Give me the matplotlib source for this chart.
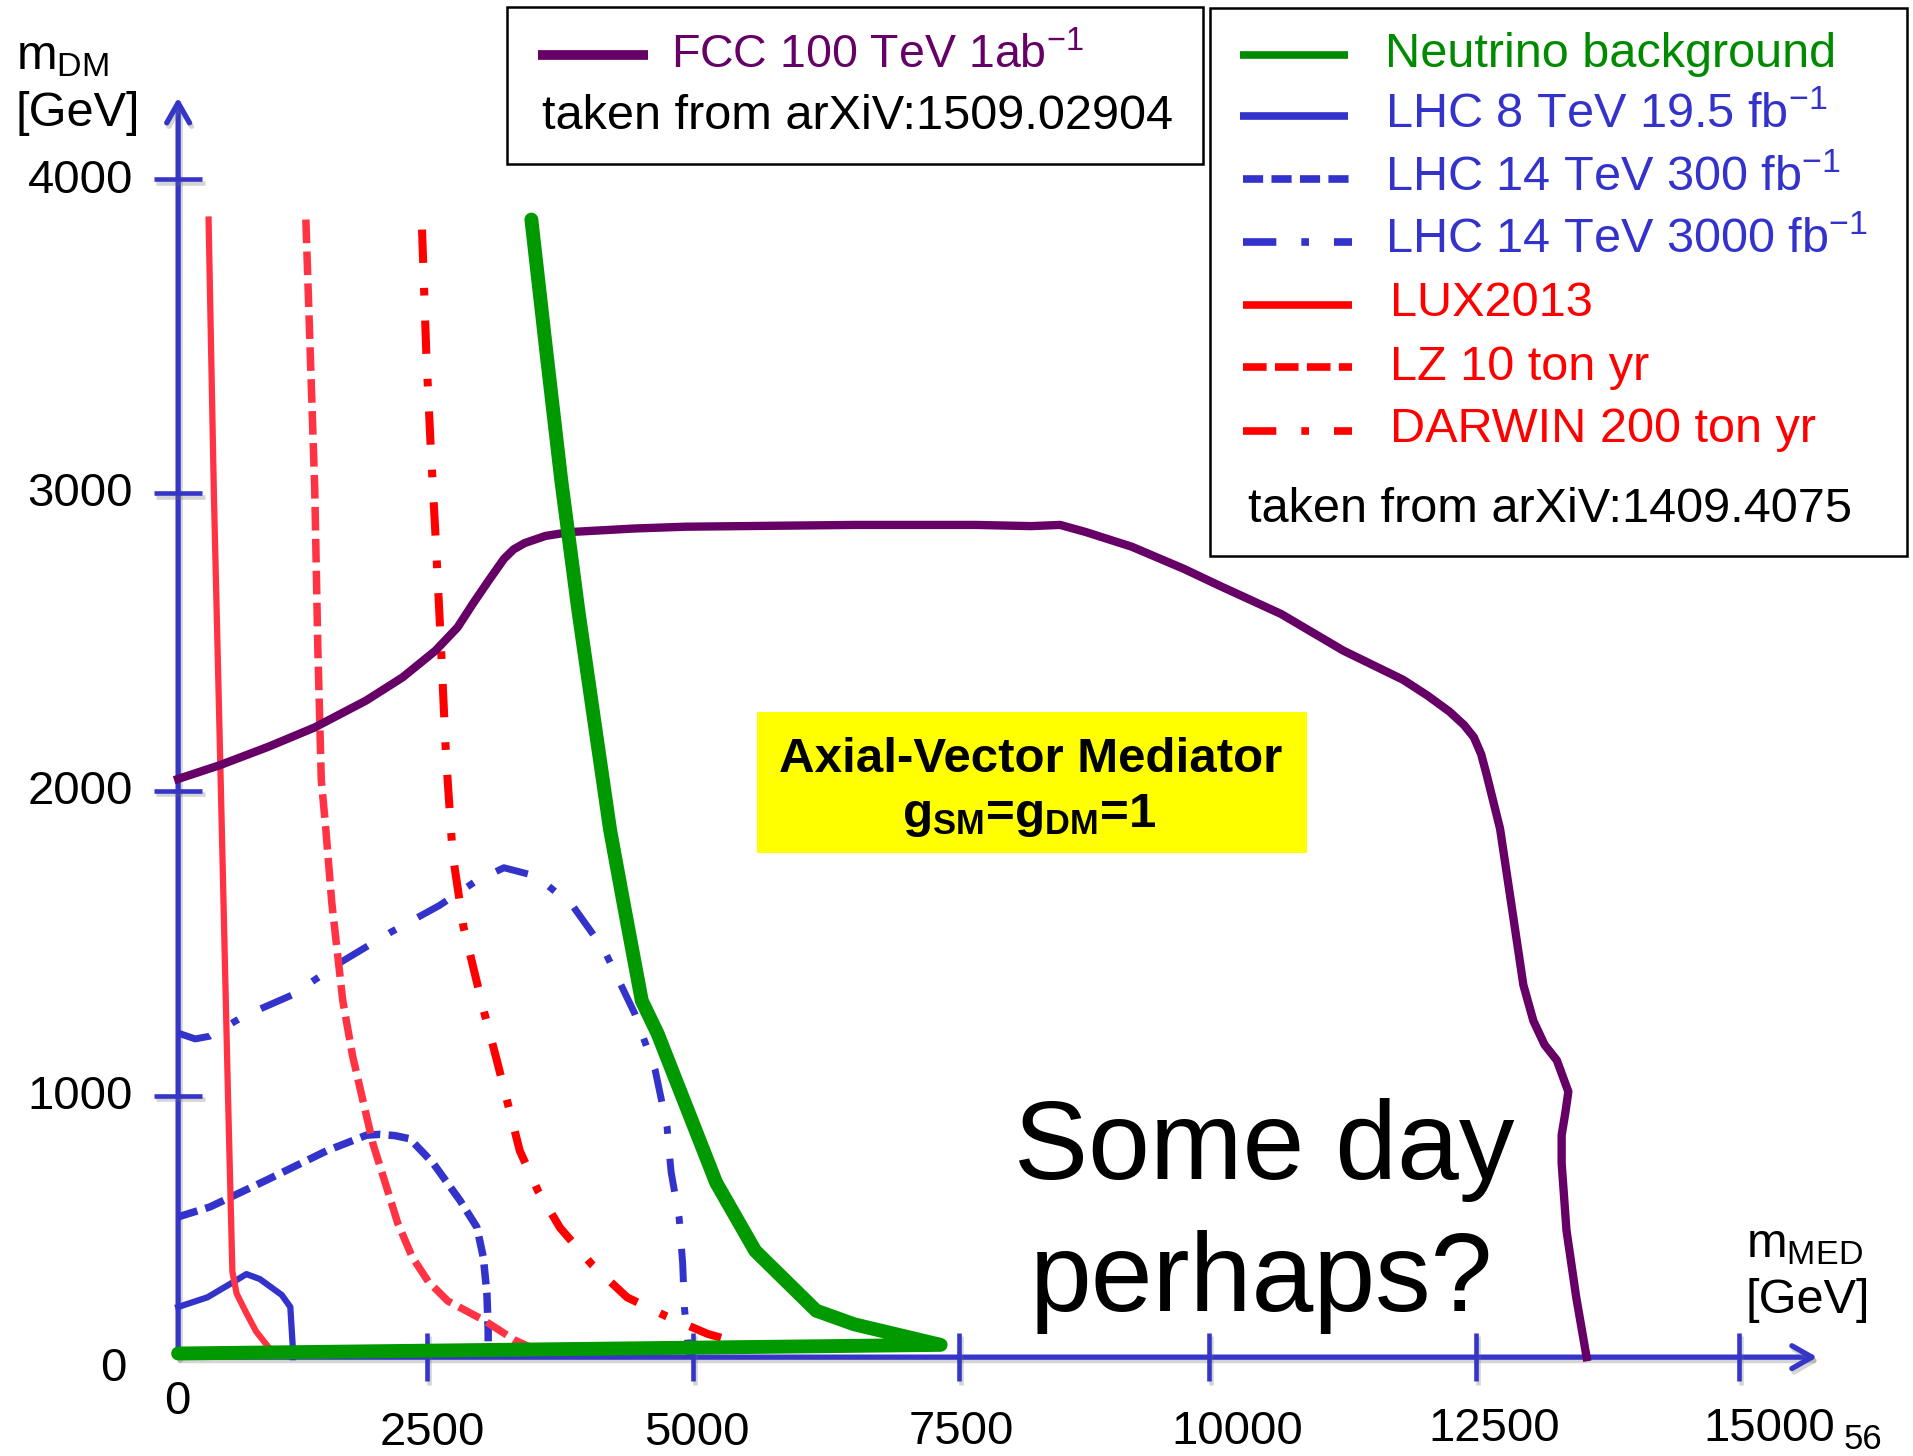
import numpy as np
import matplotlib
matplotlib.use("Agg")
import matplotlib.pyplot as plt
import matplotlib.patheffects as pe
from matplotlib.patches import Rectangle

plt.rcParams["font.family"] = ["Liberation Sans", "DejaVu Sans"]
plt.rcParams["mathtext.fontset"] = "custom"
plt.rcParams["mathtext.rm"] = "Liberation Sans"
plt.rcParams["mathtext.it"] = "Liberation Sans:italic"
plt.rcParams["mathtext.bf"] = "Liberation Sans:bold"
plt.rcParams["lines.scale_dashes"] = False

# ---------------- exclusion contours: (m_MED, m_DM) in GeV ----------------
fcc_med = [0, 417, 906, 1372, 1887, 2254, 2580, 2787, 2936, 3085, 3223, 3314, 3418, 3613, 3841,
           4450, 4931, 6514, 7671, 8220, 8512, 8769, 9226, 9745, 10103, 10674, 11256, 11816,
           12044, 12250, 12386, 12478, 12547, 12600, 12727, 12854, 12949, 13045, 13151, 13268,
           13378, 13349, 13314, 13314, 13360, 13453, 13552]
fcc_dm = [2040, 2086, 2148, 2213, 2303, 2381, 2471, 2549, 2631, 2709, 2779, 2811, 2832, 2856, 2869,
          2881, 2887, 2893, 2893, 2889, 2893, 2869, 2820, 2746, 2688, 2594, 2471, 2373,
          2320, 2266, 2221, 2180, 2123, 2053, 1876, 1584, 1364, 1246, 1168, 1117,
          1014, 935, 850, 743, 486, 229, 0]

nu_med = [3481, 3624, 3761, 3922, 4071, 4221, 4358, 4519, 4668, 5218, 5585, 6158, 6514, 7328, 0]
nu_dm = [3872, 3444, 3043, 2607, 2238, 1872, 1612, 1312, 1204, 668, 407, 178, 126, 47, 14]

lhc8_med = [0, 294, 521, 686, 821, 1041, 1127, 1152, 1152]
lhc8_dm = [192, 229, 280, 318, 299, 238, 192, 37, 0]

lhc300_med = [0, 319, 889, 1492, 1893, 2027, 2180, 2328, 2557, 2810, 2968, 3029, 3063, 3075, 3075]
lhc300_dm = [537, 575, 678, 790, 850, 853, 848, 836, 743, 600, 498, 383, 243, 103, 0]

lhc3000_med = [0, 172, 319, 662, 1152, 1642, 2132, 2615, 2959, 3223, 3532, 3876, 4163, 4450,
               4645, 4756, 4794, 4870, 4903, 4920, 4966]
lhc3000_dm = [1206, 1187, 1196, 1262, 1332, 1440, 1536, 1624, 1704, 1748, 1720, 1620, 1480, 1272,
              1084, 883, 710, 533, 360, 187, 0]

lux_med = [306, 359, 430, 501, 545, 588, 686, 784, 919]
lux_dm = [3872, 3000, 2000, 1000, 327, 243, 168, 98, 33]

lz_med = [1283, 1372, 1403, 1438, 1482, 1544, 1654, 1752, 1857, 1960, 2083, 2205, 2352, 2511,
          2695, 3039, 3326, 3475]
lz_dm = [3872, 3016, 2484, 2037, 1880, 1632, 1312, 1132, 981, 813, 664, 514, 383, 290,
         215, 140, 65, 37]

darwin_med = [2450, 2493, 2534, 2580, 2626, 2679, 2741, 2844, 3039, 3160, 3372, 3544, 3751, 4049,
              4381, 4737, 5138, 5424]
darwin_dm = [3840, 3444, 3152, 2856, 2525, 2115, 1792, 1552, 1272, 1112, 790, 636, 495, 355,
             229, 159, 89, 56]

# ---------------- axes ticks ----------------
X_TICKS = [2500, 5000, 7500, 10000, 12500, 15000]
X_TICK_LABELS = ["2500", "5000", "7500", "10000", "12500", "15000"]
Y_TICKS = [1000, 2000, 3000, 4000]
Y_TICK_LABELS = ["1000", "2000", "3000", "4000"]
X_END, Y_END = 15750, 4261          # arrow tips of the hand-drawn axes

# ---------------- layout ----------------
W, H = 1568.0, 1193.0               # overlay grid units
# hand-spaced axes: tick value -> position on the overlay grid
X_KNOT_VAL = np.array([-2500, 0, 2500, 5000, 7500, 10000, 12500, 15000, 17500], float)
X_KNOT_POS = np.array([-58, 146, 350, 568, 786, 991, 1210, 1425, 1640], float)
Y_KNOT_VAL = np.array([-1000, 0, 1000, 2000, 3000, 4000, 5000], float)
Y_KNOT_POS = np.array([-133, 81, 295, 545, 789, 1046, 1303], float)


def fwd_x(v):
    return np.interp(v, X_KNOT_VAL, X_KNOT_POS)


def inv_x(p):
    return np.interp(p, X_KNOT_POS, X_KNOT_VAL)


def fwd_y(v):
    return np.interp(v, Y_KNOT_VAL, Y_KNOT_POS)


def inv_y(p):
    return np.interp(p, Y_KNOT_POS, Y_KNOT_VAL)


BLUE = "#3333CC"
AXIS_BLUE = "#3535C8"
PURPLE = "#660066"
GREEN = "#009900"
GREEN_TXT = "#008A00"
RED = "#FF0000"
RED_SOFT = "#FF3344"

LS_LZ = (0, (17, 6))
LS_LHC300 = (0, (14.5, 6))
LS_DASHDOT = (0, (24, 18, 5.5, 18))

# soft drop shadow under the axis lines
AXIS_SHADOW = [pe.SimpleLineShadow(offset=(1.5, -2.5), shadow_color="0.45", alpha=0.3), pe.Normal()]

fig = plt.figure(figsize=(19.13, 14.56), dpi=100, facecolor="white")
ax = fig.add_axes([0, 0, 1, 1])
ax.set_zorder(1)
ax.set_xscale("function", functions=(fwd_x, inv_x))
ax.set_yscale("function", functions=(fwd_y, inv_y))
ax.set_xlim(float(inv_x(0.0)), float(inv_x(W)))
ax.set_ylim(float(inv_y(0.0)), float(inv_y(H)))

for s in ax.spines.values():
    s.set_visible(False)
ax.spines["left"].set_position(("data", 0))
ax.spines["bottom"].set_position(("data", 0))
ax.xaxis.set_ticks_position("bottom")
ax.yaxis.set_ticks_position("left")
ax.set_xticks(X_TICKS)
ax.set_yticks(Y_TICKS)
ax.tick_params(axis="both", which="major", direction="inout", length=35, width=3.3,
               color=AXIS_BLUE, labelbottom=False, labelleft=False)
ax.tick_params(which="minor", length=0)
for t in ax.xaxis.get_major_ticks() + ax.yaxis.get_major_ticks():
    t.tick1line.set_path_effects(AXIS_SHADOW)

# axis lines with open arrow heads
arrow = dict(arrowstyle="->,head_length=0.72,head_width=0.41", color=AXIS_BLUE, lw=3.8,
             shrinkA=0, shrinkB=0, mutation_scale=20, path_effects=AXIS_SHADOW)
ax.annotate("", xy=(X_END, 0), xytext=(0, 0), arrowprops=arrow, zorder=1)
ax.annotate("", xy=(0, Y_END), xytext=(0, 0), arrowprops=arrow, zorder=1)

# tick labels (hand placed on the original slide, hence individual shifts)
X_LABEL_SHIFT = [(3.5, -50.9), (2.6, -50.9), (1.8, -50.0), (20.6, -50.0), (13.2, -48.3), (22.0, -48.3)]
for v, lab, (dx, dy) in zip(X_TICKS, X_TICK_LABELS, X_LABEL_SHIFT):
    ax.annotate(lab, xy=(v, 0), xytext=(dx, dy), textcoords="offset points",
                ha="center", va="center_baseline", fontsize=34)
for v, lab in zip(Y_TICKS, Y_TICK_LABELS):
    ax.annotate(lab, xy=(0, v), xytext=(-32.5, 2.6), textcoords="offset points",
                ha="right", va="center_baseline", fontsize=34)
ax.annotate("0", xy=(0, 0), xytext=(-0.5, -29), textcoords="offset points",
            ha="center", va="center_baseline", fontsize=34)
ax.annotate("0", xy=(0, 0), xytext=(-37.3, -4.8), textcoords="offset points",
            ha="right", va="center_baseline", fontsize=34)

# contours
ax.plot(lhc8_med, lhc8_dm, color=BLUE, lw=4.5, solid_joinstyle="round", zorder=3)
ax.plot(lhc300_med, lhc300_dm, color=BLUE, lw=5.4, linestyle=LS_LHC300, zorder=3)
ax.plot(lhc3000_med, lhc3000_dm, color=BLUE, lw=5.0, linestyle=LS_DASHDOT, zorder=3)
ax.plot(lux_med, lux_dm, color=RED_SOFT, lw=4.5, solid_joinstyle="round", zorder=4)
ax.plot(lz_med, lz_dm, color=RED_SOFT, lw=5.4, linestyle=LS_LZ, zorder=4)
ax.plot(darwin_med, darwin_dm, color=RED, lw=5.8, linestyle=LS_DASHDOT, zorder=4)
ax.plot(fcc_med, fcc_dm, color=PURPLE, lw=6, solid_joinstyle="round", zorder=5)
ax.plot(nu_med, nu_dm, color=GREEN, lw=10, solid_joinstyle="round", solid_capstyle="round", zorder=6)

# ---------------- overlay: legends, labels, notes ----------------
ov = fig.add_axes([0, 0, 1, 1])
ov.set_zorder(2)
ov.set_xlim(0, W)
ov.set_ylim(H, 0)
ov.set_axis_off()

# axis titles
ov.text(12.8, 56.5, "m$_{\\mathregular{DM}}$", fontsize=35, va="baseline")
ov.text(12.8, 103.5, "[GeV]", fontsize=35, va="baseline")
ov.text(1431, 1030, "m$_{\\mathregular{MED}}$", fontsize=35, va="baseline")
ov.text(1431, 1076, "[GeV]", fontsize=35, va="baseline")

# FCC legend box
ov.add_patch(Rectangle((415.5, 6), 570.5, 128.4, fill=False, ec="black", lw=1.8))
ov.plot([441, 531], [45, 45], color=PURPLE, lw=7, solid_capstyle="butt")
ov.text(550, 56, "FCC 100 TeV 1ab$^{\\mathregular{-1}}$", color=PURPLE, fontsize=33.5, va="baseline")
ov.text(444, 106, "taken from arXiV:1509.02904", fontsize=35, va="baseline")

# LHC / direct detection legend box
ov.add_patch(Rectangle((992, 6.6), 571, 448.8, fill=False, ec="black", lw=1.8))
legend_rows = [
    ("Neutrino background", GREEN_TXT, GREEN_TXT, "-", 1016, 44.7, 1135.6, 55),
    ("LHC 8 TeV 19.5 fb$^{\\mathregular{-1}}$", BLUE, BLUE, "-", 1016, 95.4, 1135.6, 105),
    ("LHC 14 TeV 300 fb$^{\\mathregular{-1}}$", BLUE, BLUE, LS_LHC300, 1019, 146.6, 1135.6, 156.5),
    ("LHC 14 TeV 3000 fb$^{\\mathregular{-1}}$", BLUE, BLUE, LS_DASHDOT, 1019, 198, 1135.6, 207),
    ("LUX2013", RED, RED, "-", 1019, 249.8, 1139.6, 259),
    ("LZ 10 ton yr", RED, RED, LS_LZ, 1019, 301, 1139.6, 311),
    ("DARWIN 200 ton yr", RED, RED, LS_DASHDOT, 1019, 353, 1139.6, 362),
]
for label, lcol, tcol, ls, x0, ly, tx, ty in legend_rows:
    ov.plot([x0, x0 + 89], [ly, ly], color=lcol, lw=5.5, linestyle=ls,
            solid_capstyle="butt", dash_capstyle="butt")
    ov.text(tx, ty, label, color=tcol, fontsize=35, va="baseline")
ov.text(1022.7, 428, "taken from arXiV:1409.4075", fontsize=35, va="baseline")

# model box
ov.add_patch(Rectangle((620.7, 583.3), 450.8, 115.7, fc="#FFFF00", ec="none"))
ov.text(844.7, 632.5, "Axial-Vector Mediator", fontsize=35.5, fontweight="bold",
        ha="center", va="baseline")
ov.text(844, 677.6, "$\\mathbf{g}_{\\mathbf{SM}}$=$\\mathbf{g}_{\\mathbf{DM}}$=1", fontsize=35.5,
        fontweight="bold", ha="center", va="baseline")

# remark
ov.text(1036.5, 966, "Some day", fontsize=80, ha="center", va="baseline")
ov.text(1034, 1074, "perhaps?", fontsize=80, ha="center", va="baseline")

# page number
ov.text(1526.6, 1177, "56", fontsize=25, ha="center", va="center_baseline")

fig.savefig("out.png", dpi=100, facecolor="white")
